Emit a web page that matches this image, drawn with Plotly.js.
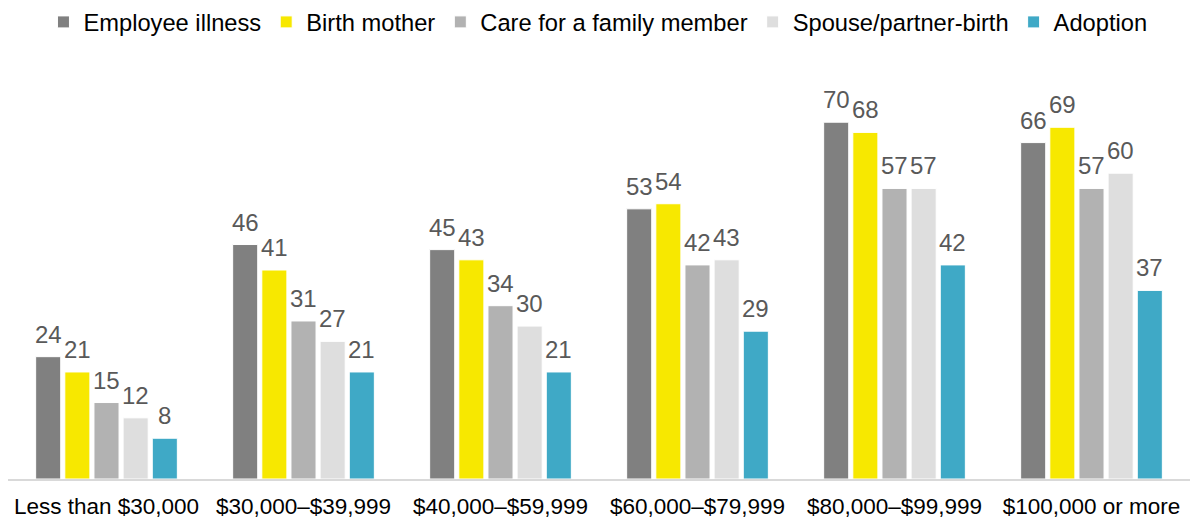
<!DOCTYPE html>
<html><head><meta charset="utf-8">
<script src="https://cdn.plot.ly/plotly-3.0.1.min.js"></script>
<style>body{margin:0;background:#fff}#chart{width:1190px;height:518px}</style>
</head><body><div id="chart"></div>
<script>
const categories = ["Less than $30,000","$30,000–$39,999","$40,000–$59,999","$60,000–$79,999","$80,000–$99,999","$100,000 or more"];
const seriesNames = ["Employee illness","Birth mother","Care for a family member","Spouse/partner-birth","Adoption"];
const employeeIllness = [24,46,45,53,70,66];
const birthMother = [21,41,43,54,68,69];
const careFamily = [15,31,34,42,57,57];
const spousePartner = [12,27,30,43,57,60];
const adoption = [8,21,21,29,42,37];
const colors = ["#808080","#F7E800","#B2B2B2","#DEDEDE","#3FA9C6"];
const allValues = [employeeIllness,birthMother,careFamily,spousePartner,adoption];

const BARGAP = 0.26, GROUPGAP = 0.14;
const nSeries = allValues.length;
const slot = (1 - BARGAP) / nSeries;

const data = allValues.map((v,i)=>({
  type:'bar', name:seriesNames[i], x:categories, y:v,
  hovertemplate:'%{y}<extra>%{fullData.name}</extra>',
  marker:{color:colors[i], line:{color:'#fff', width:1}}
}));

// value labels placed at each bar's centre (group offset from bargap), just above the bar
const annotations = [];
allValues.forEach((v,i)=>{
  v.forEach((val,j)=>{
    annotations.push({
      x: j + (i - (nSeries-1)/2) * slot, y: val, xref:'x', yref:'y',
      text:String(val), showarrow:false, yanchor:'bottom', yshift:7,
      font:{family:'Liberation Sans, Arial, sans-serif', size:24, color:'#595959'}
    });
  });
});

const layout = {
  width:1190, height:518,
  margin:{l:8, r:0, t:60, b:39},
  barmode:'group', bargap:BARGAP, bargroupgap:GROUPGAP,
  font:{family:'Liberation Sans, Arial, sans-serif', color:'#000'},
  showlegend:true,
  legend:{orientation:'h', x:0.03, xanchor:'left', y:1.0, yref:'container', yanchor:'top',
    font:{size:23.7, color:'#000'}, itemwidth:30, tracegroupgap:0, traceorder:'normal'},
  xaxis:{showline:true, linecolor:'#D9D9D9', linewidth:2, ticks:'', ticklabelstandoff:6, tickfont:{size:22.5, color:'#000'}, automargin:false},
  yaxis:{range:[0,82.2], showgrid:false, showticklabels:false, zeroline:false, showline:false},
  annotations: annotations,
  plot_bgcolor:'#fff', paper_bgcolor:'#fff'
};
Plotly.newPlot('chart', data, layout, {displayModeBar:false});
</script></body></html>
